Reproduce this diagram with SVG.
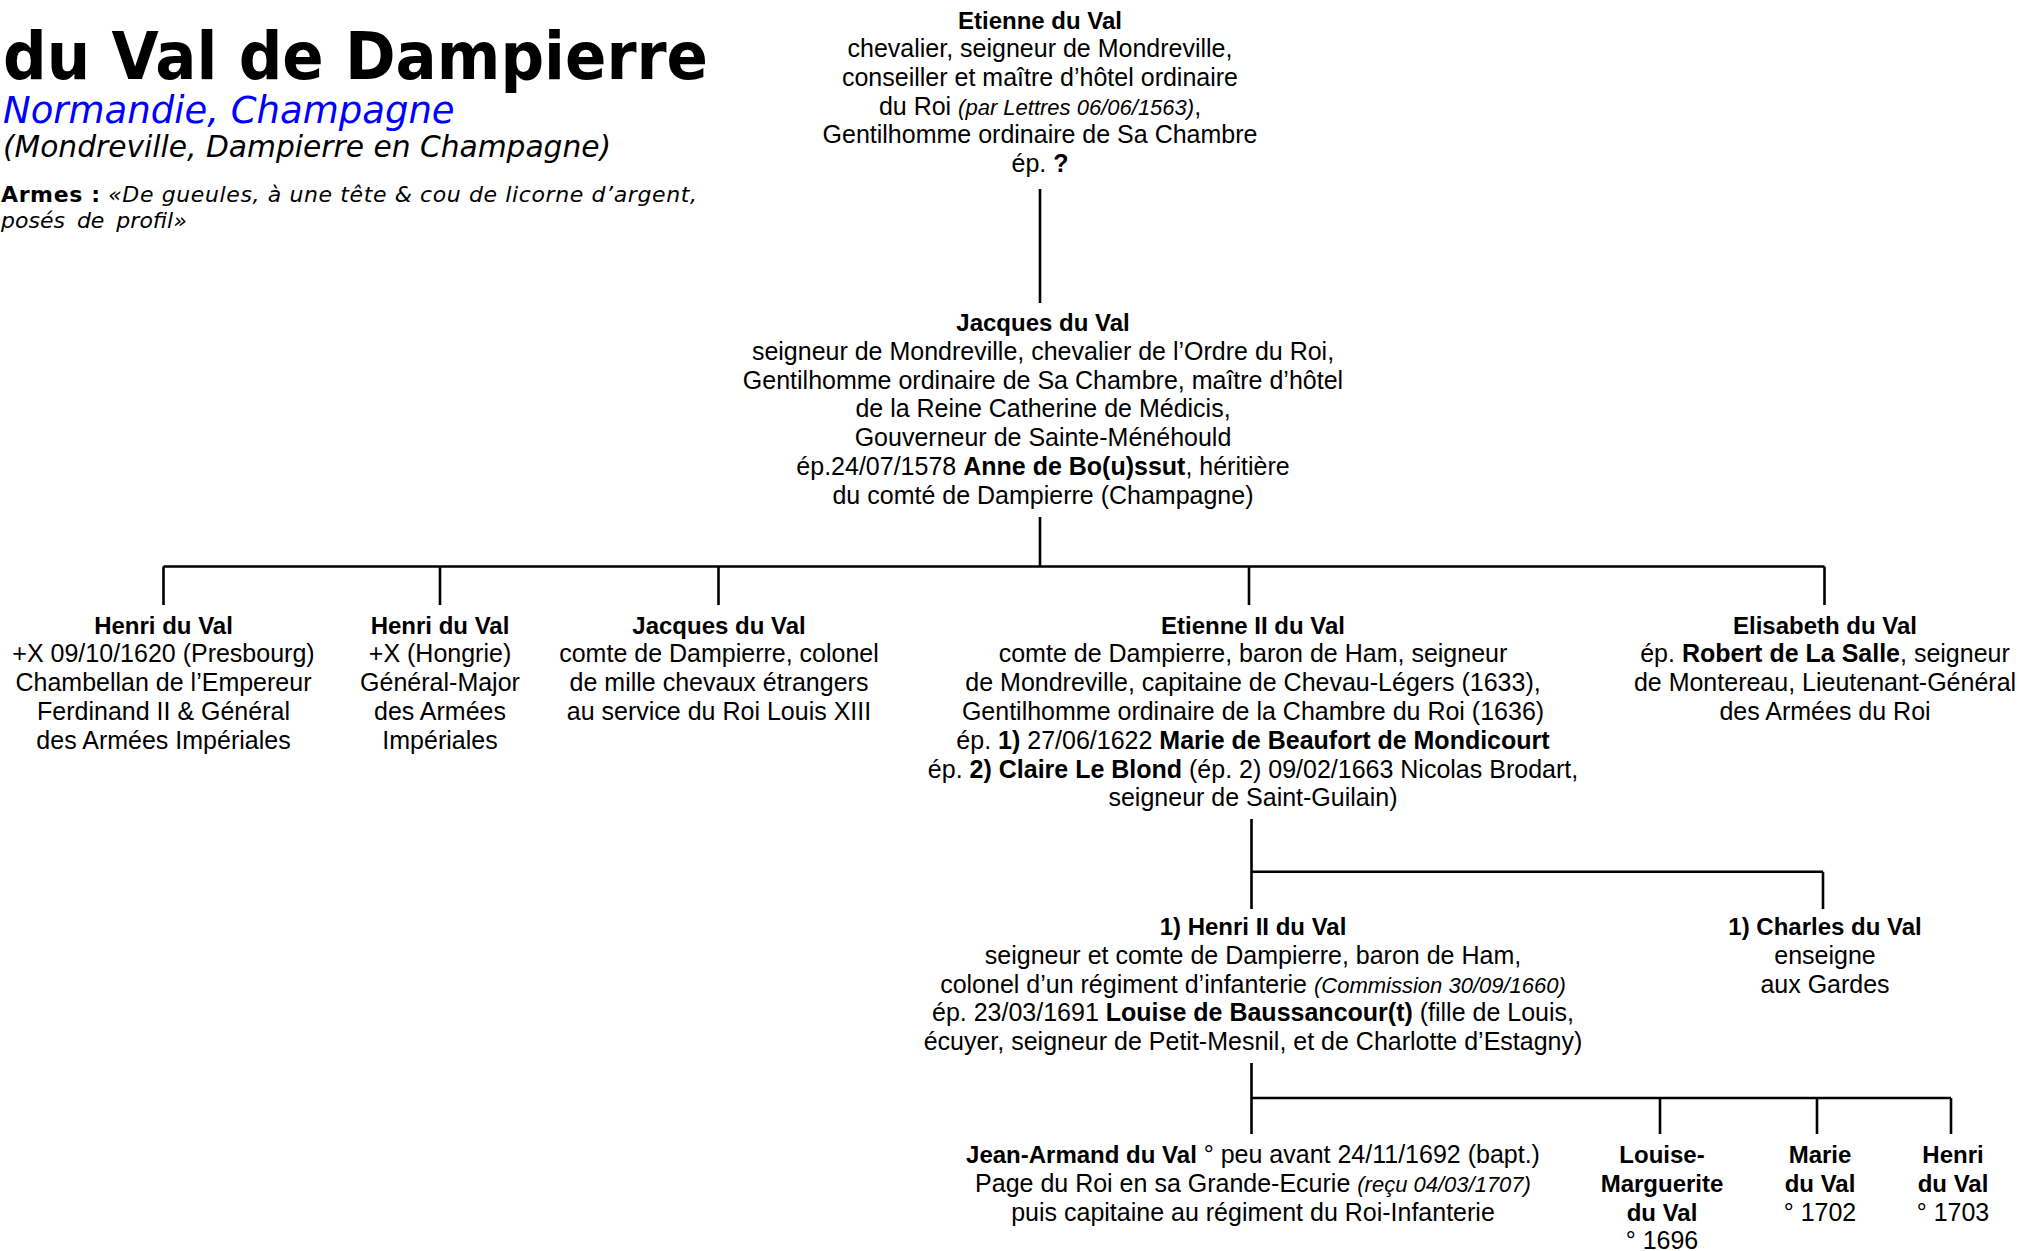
<svg xmlns="http://www.w3.org/2000/svg" width="2019" height="1251" viewBox="0 0 2019 1251">
<style>
.t{font-family:"Liberation Sans",Arial,sans-serif;font-size:25px;text-anchor:middle;fill:#000}
.b{font-weight:bold}
.n{font-weight:bold;font-size:24px}
.i{font-style:italic;font-size:22px}
.h{font-family:"DejaVu Sans",Verdana,sans-serif;fill:#000}
.c{stroke:#000;stroke-width:2.6;fill:none}
</style>
<rect width="2019" height="1251" fill="#fff"/>
<g id="header">
<text class="h" x="3" y="79" font-size="66" font-weight="bold" textLength="705" lengthAdjust="spacingAndGlyphs">du Val de Dampierre</text>
<text class="h" x="3" y="123" font-size="37" font-style="italic" style="fill:#0000ff">Normandie, Champagne</text>
<text class="h" x="3" y="157" font-size="29.7" font-style="italic">(Mondreville, Dampierre en Champagne)</text>
<text class="h" x="1" y="202" font-size="22" textLength="696" lengthAdjust="spacing"><tspan font-weight="bold">Armes :</tspan> <tspan font-style="italic">«De gueules, à une tête &amp; cou de licorne d’argent,</tspan></text>
<text class="h" x="1" y="228" font-size="22" font-style="italic" word-spacing="5">posés de profil»</text>
</g>
<g id="connectors">
<path class="c" d="M1040 189V303"/>
<path class="c" d="M1040 517V566.5M163.5 566.5H1824.5M163.5 566.5V605M440 566.5V605M718.5 566.5V605M1249 566.5V605M1824.5 566.5V605"/>
<path class="c" d="M1251.5 819V909M1251.5 871.7H1823M1823 871.7V909"/>
<path class="c" d="M1251.5 1063V1134M1251.5 1098H1951M1660 1098V1134M1817 1098V1134M1951 1098V1134"/>
</g>
<g id="etienne">
<text class="t" x="1040" y="28.5"><tspan class="n">Etienne du Val</tspan></text>
<text class="t" x="1040" y="57">chevalier, seigneur de Mondreville,</text>
<text class="t" x="1040" y="86">conseiller et maître d’hôtel ordinaire</text>
<text class="t" x="1040" y="114.5">du Roi <tspan class="i">(par Lettres 06/06/1563)</tspan>,</text>
<text class="t" x="1040" y="143">Gentilhomme ordinaire de Sa Chambre</text>
<text class="t" x="1040" y="171.5">ép. <tspan class="b">?</tspan></text>
</g>
<g id="jacques">
<text class="t" x="1043" y="331"><tspan class="n">Jacques du Val</tspan></text>
<text class="t" x="1043" y="359.8">seigneur de Mondreville, chevalier de l’Ordre du Roi,</text>
<text class="t" x="1043" y="388.6">Gentilhomme ordinaire de Sa Chambre, maître d’hôtel</text>
<text class="t" x="1043" y="417.4">de la Reine Catherine de Médicis,</text>
<text class="t" x="1043" y="446.2">Gouverneur de Sainte-Ménéhould</text>
<text class="t" x="1043" y="475">ép.24/07/1578 <tspan class="b">Anne de Bo(u)ssut</tspan>, héritière</text>
<text class="t" x="1043" y="503.8">du comté de Dampierre (Champagne)</text>
</g>
<g id="henri1">
<text class="t" x="163.5" y="633.5"><tspan class="n">Henri du Val</tspan></text>
<text class="t" x="163.5" y="662.3">+X 09/10/1620 (Presbourg)</text>
<text class="t" x="163.5" y="691.1">Chambellan de l’Empereur</text>
<text class="t" x="163.5" y="719.9">Ferdinand II &amp; Général</text>
<text class="t" x="163.5" y="748.7">des Armées Impériales</text>
</g>
<g id="henri2">
<text class="t" x="440" y="633.5"><tspan class="n">Henri du Val</tspan></text>
<text class="t" x="440" y="662.3">+X (Hongrie)</text>
<text class="t" x="440" y="691.1">Général-Major</text>
<text class="t" x="440" y="719.9">des Armées</text>
<text class="t" x="440" y="748.7">Impériales</text>
</g>
<g id="jacques2">
<text class="t" x="719" y="633.5"><tspan class="n">Jacques du Val</tspan></text>
<text class="t" x="719" y="662.3">comte de Dampierre, colonel</text>
<text class="t" x="719" y="691.1">de mille chevaux étrangers</text>
<text class="t" x="719" y="719.9">au service du Roi Louis XIII</text>
</g>
<g id="etienne2">
<text class="t" x="1253" y="633.5"><tspan class="n">Etienne II du Val</tspan></text>
<text class="t" x="1253" y="662.3">comte de Dampierre, baron de Ham, seigneur</text>
<text class="t" x="1253" y="691.1">de Mondreville, capitaine de Chevau-Légers (1633),</text>
<text class="t" x="1253" y="719.9">Gentilhomme ordinaire de la Chambre du Roi (1636)</text>
<text class="t" x="1253" y="748.7">ép. <tspan class="b">1)</tspan> 27/06/1622 <tspan class="b">Marie de Beaufort de Mondicourt</tspan></text>
<text class="t" x="1253" y="777.5">ép. <tspan class="b">2) Claire Le Blond</tspan> (ép. 2) 09/02/1663 Nicolas Brodart,</text>
<text class="t" x="1253" y="806.3">seigneur de Saint-Guilain)</text>
</g>
<g id="elisabeth">
<text class="t" x="1825" y="633.5"><tspan class="n">Elisabeth du Val</tspan></text>
<text class="t" x="1825" y="662.3">ép. <tspan class="b">Robert de La Salle</tspan>, seigneur</text>
<text class="t" x="1825" y="691.1">de Montereau, Lieutenant-Général</text>
<text class="t" x="1825" y="719.9">des Armées du Roi</text>
</g>
<g id="henri3">
<text class="t" x="1253" y="935"><tspan class="n">1) Henri II du Val</tspan></text>
<text class="t" x="1253" y="963.8">seigneur et comte de Dampierre, baron de Ham,</text>
<text class="t" x="1253" y="992.6">colonel d’un régiment d’infanterie <tspan class="i">(Commission 30/09/1660)</tspan></text>
<text class="t" x="1253" y="1021.4">ép. 23/03/1691 <tspan class="b">Louise de Baussancour(t)</tspan> (fille de Louis,</text>
<text class="t" x="1253" y="1050.2">écuyer, seigneur de Petit-Mesnil, et de Charlotte d’Estagny)</text>
</g>
<g id="charles">
<text class="t" x="1825" y="935"><tspan class="n">1) Charles du Val</tspan></text>
<text class="t" x="1825" y="963.8">enseigne</text>
<text class="t" x="1825" y="992.6">aux Gardes</text>
</g>
<g id="jeanarmand">
<text class="t" x="1253" y="1163"><tspan class="n">Jean-Armand du Val</tspan> ° peu avant 24/11/1692 (bapt.)</text>
<text class="t" x="1253" y="1191.8">Page du Roi en sa Grande-Ecurie <tspan class="i">(reçu 04/03/1707)</tspan></text>
<text class="t" x="1253" y="1220.6">puis capitaine au régiment du Roi-Infanterie</text>
</g>
<g id="louisemarguerite">
<text class="t" x="1662" y="1163"><tspan class="n">Louise-</tspan></text>
<text class="t" x="1662" y="1191.8"><tspan class="n">Marguerite</tspan></text>
<text class="t" x="1662" y="1220.6"><tspan class="n">du Val</tspan></text>
<text class="t" x="1662" y="1249">° 1696</text>
</g>
<g id="marie">
<text class="t" x="1820" y="1163"><tspan class="n">Marie</tspan></text>
<text class="t" x="1820" y="1191.8"><tspan class="n">du Val</tspan></text>
<text class="t" x="1820" y="1220.6">° 1702</text>
</g>
<g id="henri4">
<text class="t" x="1953" y="1163"><tspan class="n">Henri</tspan></text>
<text class="t" x="1953" y="1191.8"><tspan class="n">du Val</tspan></text>
<text class="t" x="1953" y="1220.6">° 1703</text>
</g>
</svg>
